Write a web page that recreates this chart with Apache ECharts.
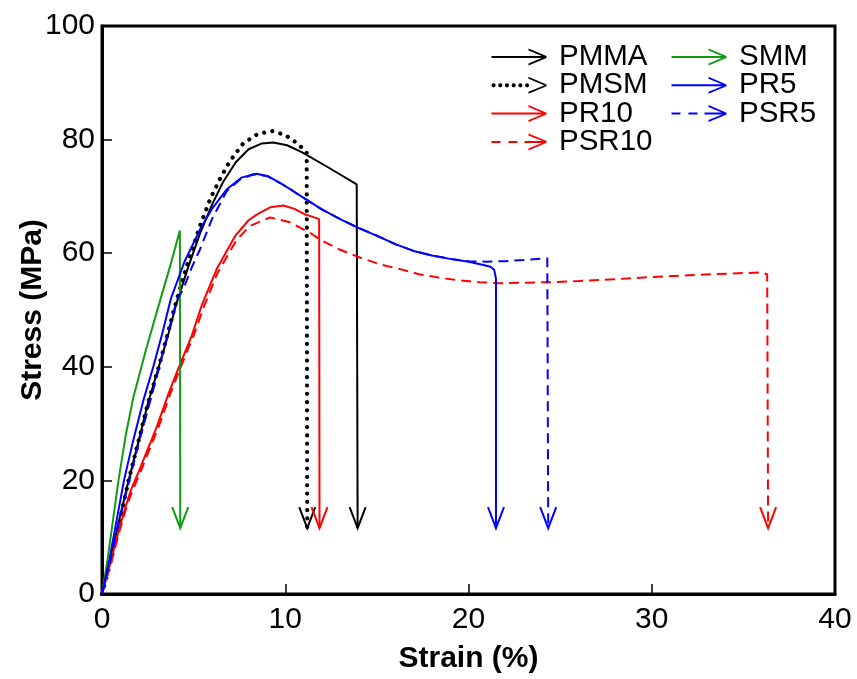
<!DOCTYPE html>
<html><head><meta charset="utf-8">
<script src="https://cdn.jsdelivr.net/npm/echarts@6/dist/echarts.min.js"></script>
<style>html,body{margin:0;padding:0;background:#fff}#c{width:857px;height:679px}</style>
</head><body><div id="c"></div>
<script>
// ---- data (strain %, stress MPa) ----
const xTicks = { min: 0, max: 40, interval: 10 };
const yTicks = { min: 0, max: 100, interval: 20 };
const names = ['PMMA', 'PMSM', 'PR10', 'PSR10', 'SMM', 'PR5', 'PSR5'];

const PMMA = [[0,0],[0.4,5],[0.9,12.5],[1.45,20],[2.0,27],[2.5,33.5],[3.1,40],[3.6,45.5],[4.05,51],[4.7,57.5],[5.35,63.5],[6.0,68.5],[6.6,72.5],[7.3,76],[8.0,78.3],[8.7,79.3],[9.35,79.5],[10.1,79],[10.9,77.8],[12.4,75],[13.9,72.1],[13.95,11.6]];
const PMSM = [[0,0],[0.45,5.5],[0.95,12.5],[1.45,20],[2.0,27],[2.5,33.5],[3.1,40],[3.6,46],[4.05,51.5],[4.7,58.5],[5.35,64.8],[5.9,69.5],[6.5,73.5],[7.0,76.3],[7.7,79.3],[8.5,81],[9.3,81.5],[10.0,80.8],[10.5,79.7],[10.9,78.6],[11.17,77.7],[11.2,11.6]];
const PR10 = [[0,0],[0.5,6],[0.9,11],[1.3,15.5],[1.6,18.5],[2.0,21.5],[2.5,25.5],[3.0,29.5],[3.6,35],[4.2,40],[4.9,45.5],[5.44,50.8],[6.26,57.2],[7.26,63],[8.0,65.8],[8.44,66.8],[9.2,68.1],[9.9,68.4],[10.5,67.8],[11.1,66.8],[11.5,66.4],[11.85,66.0],[11.87,11.6]];
const PSR10 = [[0,0],[0.5,5.5],[0.95,11],[1.35,15.5],[1.7,18.5],[2.1,21.5],[2.6,25.5],[3.1,29.5],[3.7,35],[4.3,40],[5.0,45.5],[5.55,50.5],[6.3,56.5],[7.34,62.3],[8.07,64.8],[9.17,66.3],[10.2,65.5],[11.35,63.6],[11.9,62.4],[13.0,60.6],[14.1,59.2],[15.2,58],[16.26,57.2],[17.3,56.3],[18.4,55.7],[19.5,55.2],[20.6,54.9],[21.7,54.7],[23,54.8],[24.5,54.9],[26,55.1],[27.9,55.4],[30,55.8],[32,56.1],[33.4,56.3],[35,56.5],[36.0,56.6],[36.3,56.3],[36.35,11.6]];
const SMM = [[0,0],[0.3,6],[0.6,13],[0.9,20],[1.3,28],[1.7,34.5],[2.4,43],[3.2,52],[3.7,57.5],[4.25,64],[4.27,11.6]];
const PR5 = [[0,0],[0.4,6],[0.8,13],[1.2,20],[1.7,27],[2.25,34],[2.8,40],[3.3,46],[3.75,51.9],[4.5,58.5],[5.35,64.2],[6.0,67.8],[6.8,71.2],[7.6,73.3],[8.44,74],[9.1,73.5],[9.7,72.4],[10.4,71],[11.07,69.6],[12.0,67.7],[13.0,66],[13.9,64.6],[15.2,62.8],[16.0,61.6],[17,60.4],[18,59.6],[19,59],[20,58.5],[20.7,58],[21.2,57.6],[21.4,57.1],[21.5,55.5],[21.5,11.6]];
const PSR5 = [[0,0],[0.45,6],[0.95,13],[1.49,20],[2.0,26.5],[2.55,33],[3.13,40],[3.6,46],[4.1,51.9],[4.44,53.7],[4.9,57.5],[5.35,60.7],[6.0,66],[6.8,70.9],[7.5,72.9],[8.25,73.9],[9.0,73.6],[9.7,72.4],[10.4,71],[11.07,69.6],[12.0,67.7],[13.0,66],[13.9,64.6],[15.2,62.8],[16,61.6],[17,60.4],[18,59.6],[19,59],[20,58.6],[21,58.5],[22,58.6],[23,58.8],[24.3,59.1],[24.35,11.6]];

const curves = [PMMA, PMSM, PR10, PSR10, SMM, PR5, PSR5];
const colors = ['#000000', '#000000', '#ff0000', '#ff0000', '#119c11', '#0000ff', '#0000ff'];
const styles = ['solid', 'dotted', 'solid', 'dashed', 'solid', 'solid', 'dashed'];

// ---- legend icon paths (62.5 x 17, last 7.5px empty spacer) ----
const ARMS = 'M37 0 L55 7.6 L55 9.4 L37 2 Z M37 15 L55 7.6 L55 9.4 L37 17 Z M62.5 8.5 L62.5 8.5 Z';
function dot(cx){ return 'M'+(cx-2.1)+' 8.5 A2.1 2.1 0 1 0 '+(cx+2.1)+' 8.5 A2.1 2.1 0 1 0 '+(cx-2.1)+' 8.5 Z '; }
const ICONS = {
  solid: 'path://M0 7.5 L54 7.5 L54 9.5 L0 9.5 Z ' + ARMS,
  dotted: 'path://' + [2.1, 8.8, 15.5, 22.2, 28.9, 35.6].map(dot).join('') + ARMS,
  dashed: 'path://M0 7.5 L9 7.5 L9 9.5 L0 9.5 Z M17 7.5 L26 7.5 L26 9.5 L17 9.5 Z M33 7.5 L54 7.5 L54 9.5 L33 9.5 Z ' + ARMS
};

const FONT = '"Liberation Sans", Arial, Helvetica, sans-serif';

const lineSeries = names.map((n, i) => {
  let ls = { color: colors[i], width: 2, type: 'solid' };
  if (styles[i] === 'dotted') ls = { color: colors[i], width: 4.2, type: [0.01, 8.3], cap: 'round' };
  if (styles[i] === 'dashed') ls = { color: colors[i], width: 2, type: [10, 6] };
  return {
    name: n, type: 'line', data: curves[i], symbol: 'none', smooth: false,
    color: colors[i], itemStyle: { color: colors[i] }, lineStyle: ls, z: 3
  };
});

const arrowData = curves.map((c, i) => [c[c.length - 1][0], c[c.length - 1][1], i]);
const arrowSeries = {
  type: 'custom', name: 'arrows', data: arrowData, z: 4, silent: true,
  renderItem: function (params, api) {
    const p = api.coord([api.value(0), api.value(1)]);
    const c = colors[api.value(2)];
    return { type: 'polyline', shape: { points: [[p[0] - 8, p[1] - 21], [p[0], p[1]], [p[0] + 8, p[1] - 21]] },
      style: { stroke: c, lineWidth: 2, fill: null } };
  }
};

function legendData(list) {
  return list.map(n => ({ name: n, icon: ICONS[styles[names.indexOf(n)]] }));
}
const legendCommon = {
  orient: 'vertical', padding: 0, itemGap: -1.7, itemWidth: 62.5, itemHeight: 17,
  selectedMode: false, itemStyle: { borderWidth: 0 },
  textStyle: { fontFamily: FONT, fontSize: 29.5, color: '#000', lineHeight: 28.3 }
};

const chart = echarts.init(document.getElementById('c'), null, { renderer: 'canvas' });
chart.setOption({
  animation: false,
  backgroundColor: '#fff',
  grid: { left: 102, right: 22, top: 26, bottom: 83, show: true, borderColor: '#000', borderWidth: 3, backgroundColor: 'transparent' },
  legend: [
    Object.assign({ left: 491.5, top: 42, data: legendData(['PMMA', 'PMSM', 'PR10', 'PSR10']) }, legendCommon),
    Object.assign({ left: 671.5, top: 42, data: legendData(['SMM', 'PR5', 'PSR5']) }, legendCommon)
  ],
  xAxis: {
    type: 'value', min: xTicks.min, max: xTicks.max, interval: xTicks.interval,
    name: 'Strain (%)', nameLocation: 'middle', nameGap: 50, nameMoveOverlap: false,
    nameTextStyle: { fontFamily: FONT, fontSize: 30, fontWeight: 'bold', color: '#000' },
    axisLine: { show: true, lineStyle: { color: '#000', width: 3 } },
    axisTick: { show: true, inside: true, length: 10, lineStyle: { color: '#000', width: 1.5 } },
    axisLabel: { fontFamily: FONT, fontSize: 30, color: '#000', margin: 11 },
    splitLine: { show: false }
  },
  yAxis: {
    type: 'value', min: yTicks.min, max: yTicks.max, interval: yTicks.interval,
    name: 'Stress (MPa)', nameLocation: 'middle', nameGap: 54, nameRotate: 90, nameMoveOverlap: false,
    nameTextStyle: { fontFamily: FONT, fontSize: 30, fontWeight: 'bold', color: '#000' },
    axisLine: { show: true, lineStyle: { color: '#000', width: 3 } },
    axisTick: { show: true, inside: true, length: 10, lineStyle: { color: '#000', width: 1.5 } },
    axisLabel: { fontFamily: FONT, fontSize: 30, color: '#000', margin: 7 },
    splitLine: { show: false }
  },
  series: lineSeries.concat([arrowSeries])
});
</script></body></html>
